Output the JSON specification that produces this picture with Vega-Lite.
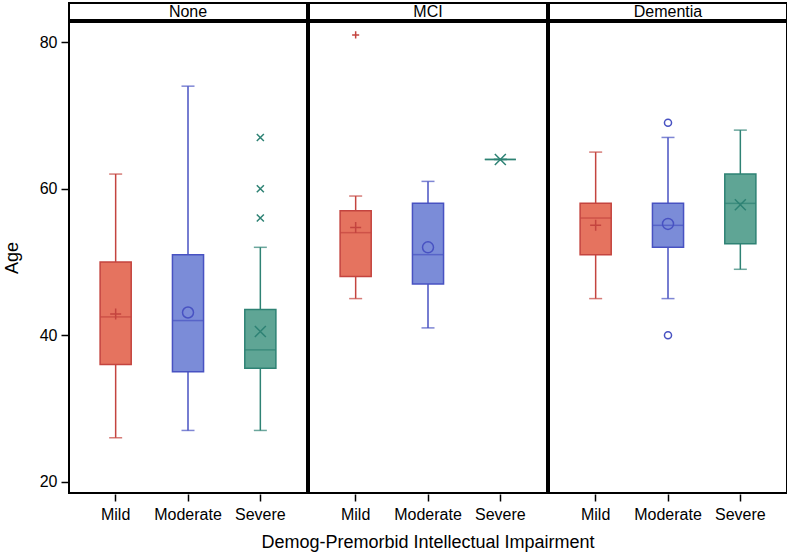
{
  "$schema": "https://vega.github.io/schema/vega-lite/v6.json",
  "padding": {"left": 3, "right": 2, "top": 2, "bottom": 4},
  "background": "white",
  "spacing": 0,
  "datasets": {
    "panels": [
      {"panel": "None"},
      {"panel": "MCI"},
      {"panel": "Dementia"}
    ],
    "stats": [
      {"panel": "None", "group": "Mild", "kind": "box", "min": 26, "q1": 36, "median": 42.5, "q3": 50, "max": 62, "mean": 42.9},
      {"panel": "None", "group": "Moderate", "kind": "box", "min": 27, "q1": 35, "median": 42, "q3": 51, "max": 74, "mean": 43.1},
      {"panel": "None", "group": "Severe", "kind": "box", "min": 27, "q1": 35.5, "median": 38, "q3": 43.5, "max": 52, "mean": 40.5},
      {"panel": "MCI", "group": "Mild", "kind": "box", "min": 45, "q1": 48, "median": 54, "q3": 57, "max": 59, "mean": 54.7},
      {"panel": "MCI", "group": "Moderate", "kind": "box", "min": 41, "q1": 47, "median": 51, "q3": 58, "max": 61, "mean": 52},
      {"panel": "MCI", "group": "Severe", "kind": "box", "min": 64, "q1": 64, "median": 64, "q3": 64, "max": 64, "mean": 64},
      {"panel": "Dementia", "group": "Mild", "kind": "box", "min": 45, "q1": 51, "median": 56, "q3": 58, "max": 65, "mean": 55},
      {"panel": "Dementia", "group": "Moderate", "kind": "box", "min": 45, "q1": 52, "median": 55, "q3": 58, "max": 67, "mean": 55.2},
      {"panel": "Dementia", "group": "Severe", "kind": "box", "min": 49, "q1": 52.5, "median": 58, "q3": 62, "max": 68, "mean": 57.8},
      {"panel": "None", "group": "Severe", "kind": "out", "value": 56},
      {"panel": "None", "group": "Severe", "kind": "out", "value": 60},
      {"panel": "None", "group": "Severe", "kind": "out", "value": 67},
      {"panel": "MCI", "group": "Mild", "kind": "out", "value": 81},
      {"panel": "Dementia", "group": "Moderate", "kind": "out", "value": 69},
      {"panel": "Dementia", "group": "Moderate", "kind": "out", "value": 40}
    ]
  },
  "config": {
    "font": "Liberation Sans",
    "view": {"stroke": "black", "strokeWidth": 2},
    "legend": {"disable": true},
    "axis": {
      "domain": false,
      "grid": false,
      "labelFont": "Liberation Sans",
      "labelFontSize": 16,
      "labelColor": "black",
      "tickColor": "black",
      "tickSize": 7,
      "tickWidth": 1.5,
      "labelPadding": 4,
      "titleFont": "Liberation Sans",
      "titleFontSize": 18,
      "titleFontWeight": "normal",
      "titleColor": "black"
    },
    "header": {
      "titleFont": "Liberation Sans",
      "titleFontSize": 18,
      "titleFontWeight": "normal",
      "titleColor": "black"
    }
  },
  "vconcat": [
    {
      "data": {"name": "panels"},
      "spacing": 0,
      "facet": {
        "column": {"field": "panel", "type": "nominal", "sort": ["None", "MCI", "Dementia"], "header": null}
      },
      "resolve": {"scale": {"x": "independent"}},
      "spec": {
        "width": 238,
        "height": 17,
        "view": {"stroke": "black", "strokeWidth": 2},
        "mark": {"type": "text", "fontSize": 16, "font": "Liberation Sans", "color": "black", "baseline": "middle", "align": "center"},
        "encoding": {
          "x": {"field": "panel", "type": "nominal", "axis": null},
          "text": {"field": "panel", "type": "nominal"}
        }
      }
    },
    {
      "data": {"name": "stats"},
      "spacing": 0,
      "facet": {
        "column": {
          "field": "panel",
          "type": "nominal",
          "sort": ["None", "MCI", "Dementia"],
          "title": "Demog-Premorbid Intellectual Impairment",
          "header": {"labels": false, "titleOrient": "bottom", "titlePadding": 2}
        }
      },
      "spec": {
        "width": 238,
        "height": 471,
        "encoding": {
          "x": {
            "field": "group",
            "type": "nominal",
            "sort": ["Mild", "Moderate", "Severe"],
            "scale": {"paddingInner": 0.57, "paddingOuter": 0.43},
            "axis": {"title": null, "labelAngle": 0, "labelPadding": 5}
          }
        },
        "layer": [
          {
            "transform": [{"filter": "datum.kind === 'box'"}],
            "mark": {"type": "rule", "strokeWidth": 1.5},
            "encoding": {
              "y": {
                "field": "min",
                "type": "quantitative",
                "scale": {"domain": [18.46, 82.76], "nice": false, "zero": false},
                "axis": {"title": "Age", "values": [20, 40, 60, 80], "titlePadding": 18}
              },
              "y2": {"field": "max"},
              "color": {
                "field": "group",
                "type": "nominal",
                "scale": {"domain": ["Mild", "Moderate", "Severe"], "range": ["#C4443F", "#4852C2", "#2E8274"]}
              }
            }
          },
          {
            "transform": [{"filter": "datum.kind === 'box'"}],
            "mark": {"type": "tick", "thickness": 1.5, "size": 13},
            "encoding": {
              "y": {"field": "min", "type": "quantitative"},
              "color": {"field": "group", "type": "nominal"}
            }
          },
          {
            "transform": [{"filter": "datum.kind === 'box'"}],
            "mark": {"type": "tick", "thickness": 1.5, "size": 13},
            "encoding": {
              "y": {"field": "max", "type": "quantitative"},
              "color": {"field": "group", "type": "nominal"}
            }
          },
          {
            "transform": [{"filter": "datum.kind === 'box'"}],
            "mark": {"type": "bar", "strokeWidth": 1.5},
            "encoding": {
              "y": {"field": "q1", "type": "quantitative"},
              "y2": {"field": "q3"},
              "fill": {
                "field": "group",
                "type": "nominal",
                "scale": {"domain": ["Mild", "Moderate", "Severe"], "range": ["#E5735F", "#7B8CD8", "#5FA595"]}
              },
              "stroke": {
                "field": "group",
                "type": "nominal",
                "scale": {"domain": ["Mild", "Moderate", "Severe"], "range": ["#C4443F", "#4852C2", "#2E8274"]}
              }
            }
          },
          {
            "transform": [{"filter": "datum.kind === 'box'"}],
            "mark": {"type": "tick", "thickness": 1.5, "size": 31},
            "encoding": {
              "y": {"field": "median", "type": "quantitative"},
              "color": {"field": "group", "type": "nominal"}
            }
          },
          {
            "transform": [{"filter": "datum.kind === 'box'"}],
            "mark": {"type": "point", "filled": false, "strokeWidth": 1.5, "opacity": 1},
            "encoding": {
              "y": {"field": "mean", "type": "quantitative"},
              "color": {"field": "group", "type": "nominal"},
              "shape": {
                "field": "group",
                "type": "nominal",
                "scale": {"domain": ["Mild", "Moderate", "Severe"], "range": ["M-1,0L1,0M0,-1L0,1", "circle", "M-1,-1L1,1M-1,1L1,-1"]}
              },
              "size": {
                "field": "group",
                "type": "nominal",
                "scale": {"domain": ["Mild", "Moderate", "Severe"], "range": [121, 121, 165]}
              }
            }
          },
          {
            "transform": [{"filter": "datum.kind === 'out'"}],
            "mark": {"type": "point", "filled": false, "strokeWidth": 1.5, "size": 50, "opacity": 1},
            "encoding": {
              "y": {"field": "value", "type": "quantitative"},
              "color": {"field": "group", "type": "nominal"},
              "shape": {"field": "group", "type": "nominal"}
            }
          }
        ]
      }
    }
  ]
}
